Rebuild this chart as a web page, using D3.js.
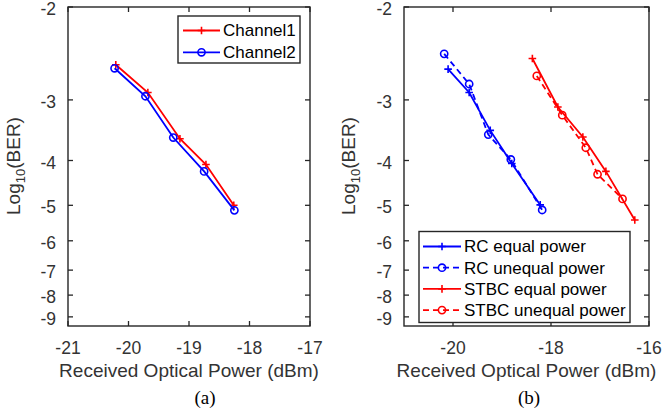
<!DOCTYPE html>
<html><head><meta charset="utf-8">
<script src="https://cdn.jsdelivr.net/npm/d3@7"></script>
<style>body{margin:0;background:#fff}svg{display:block}</style>
</head><body><svg id="c" width="663" height="413"></svg>
<script>
// ---- data (log10 BER vs received optical power, dBm) ----
const ch1X = [-20.21, -19.68, -19.15, -18.72, -18.26];
const ch1Y = [-2.56, -2.90, -3.60, -4.08, -5.00];
const ch2X = [-20.23, -19.72, -19.26, -18.75, -18.25];
const ch2Y = [-2.60, -2.95, -3.58, -4.22, -5.13];

const rcEqX = [-20.10, -19.67, -19.24, -18.80, -18.22];
const rcEqY = [-2.61, -2.90, -3.46, -4.06, -4.99];
const rcUnX = [-20.18, -19.67, -19.28, -18.82, -18.18];
const rcUnY = [-2.44, -2.79, -3.53, -3.98, -5.12];
const stEqX = [-18.38, -17.86, -17.35, -16.88, -16.29];
const stEqY = [-2.49, -3.10, -3.57, -4.22, -5.39];
const stUnX = [-18.29, -17.77, -17.29, -17.05, -16.54];
const stUnY = [-2.69, -3.22, -3.76, -4.28, -4.84];

const yTicks = [-2, -3, -4, -5, -6, -7, -8, -9];
const xTicksA = [-21, -20, -19, -18, -17];
const xTicksB = [-20, -18, -16];
const legendA = ["Channel1", "Channel2"];
const legendB = ["RC equal power", "RC unequal power", "STBC equal power", "STBC unequal power"];

// inverse normal CDF (Acklam)
function invNorm(p){
  const a=[-3.969683028665376e+01,2.209460984245205e+02,-2.759285104469687e+02,1.383577518672690e+02,-3.066479806614716e+01,2.506628277459239e+00];
  const b=[-5.447609879822406e+01,1.615858368580409e+02,-1.556989798598866e+02,6.680131188771972e+01,-1.328068155288572e+01];
  const c=[-7.784894002430293e-03,-3.223964580411365e-01,-2.400758277161838e+00,-2.549732539343734e+00,4.374664141464968e+00,2.938163982698783e+00];
  const d=[7.784695709041462e-03,3.224671290700398e-01,2.445134137142996e+00,3.754408661907416e+00];
  const pl=0.02425;
  if(p<pl){const q=Math.sqrt(-2*Math.log(p));return (((((c[0]*q+c[1])*q+c[2])*q+c[3])*q+c[4])*q+c[5])/((((d[0]*q+d[1])*q+d[2])*q+d[3])*q+1);}
  if(p>1-pl){const q=Math.sqrt(-2*Math.log(1-p));return -(((((c[0]*q+c[1])*q+c[2])*q+c[3])*q+c[4])*q+c[5])/((((d[0]*q+d[1])*q+d[2])*q+d[3])*q+1);}
  const q=p-0.5,r=q*q;return (((((a[0]*r+a[1])*r+a[2])*r+a[3])*r+a[4])*r+a[5])*q/(((((b[0]*r+b[1])*r+b[2])*r+b[3])*r+b[4])*r+1);
}
const Q = lb => -invNorm(Math.pow(10, lb));

const svg = d3.select("#c");
const AX = "#262626", TX = "#333";
const yTop = 7, yBot = 326;
const yMin = -9.46;
const y = d3.scaleLog().domain([Q(-2), Q(yMin)]).range([yTop, yBot]);

function panel(x0, x1, xDom, xTicks, labelX, tag, tagX){
  const x = d3.scaleLinear().domain(xDom).range([x0, x1]);
  const g = svg.append("g");
  g.append("rect").attr("x", x0).attr("y", yTop).attr("width", x1-x0).attr("height", yBot-yTop)
    .attr("fill","#fff").attr("stroke", AX).attr("stroke-width", 1.4);
  xTicks.forEach(t=>{
    const px = x(t);
    g.append("line").attr("x1",px).attr("x2",px).attr("y1",yBot).attr("y2",yBot-5).attr("stroke",AX).attr("stroke-width",1.3);
    g.append("line").attr("x1",px).attr("x2",px).attr("y1",yTop).attr("y2",yTop+5).attr("stroke",AX).attr("stroke-width",1.3);
    g.append("text").attr("x",px).attr("y",348).attr("dy","0.35em").attr("text-anchor","middle")
      .attr("font-family","Liberation Sans, Arial, sans-serif").attr("font-size",17.5).attr("fill",TX).text(t);
  });
  yTicks.forEach(t=>{
    const py = y(Q(t));
    g.append("line").attr("x1",x0).attr("x2",x0+5).attr("y1",py).attr("y2",py).attr("stroke",AX).attr("stroke-width",1.3);
    g.append("line").attr("x1",x1).attr("x2",x1-5).attr("y1",py).attr("y2",py).attr("stroke",AX).attr("stroke-width",1.3);
    g.append("text").attr("x",x0-12).attr("y",py+2).attr("dy","0.35em").attr("text-anchor","end")
      .attr("font-family","Liberation Sans, Arial, sans-serif").attr("font-size",17.5).attr("fill",TX).text(t);
  });
  g.append("text").attr("x",(x0+x1)/2).attr("y",377).attr("text-anchor","middle")
    .attr("font-family","Liberation Sans, Arial, sans-serif").attr("font-size",19).attr("fill",TX)
    .text("Received Optical Power (dBm)");
  const yl = g.append("text").attr("transform",`translate(${labelX},166) rotate(-90)`).attr("text-anchor","middle")
    .attr("font-family","Liberation Sans, Arial, sans-serif").attr("font-size",19).attr("fill",TX);
  yl.append("tspan").text("Log");
  yl.append("tspan").attr("font-size",13).attr("dy",5).text("10");
  yl.append("tspan").attr("dy",-5).text("(BER)");
  g.append("text").attr("x",tagX).attr("y",404).attr("text-anchor","middle")
    .attr("font-family","Liberation Serif, Times New Roman, serif").attr("font-size",19).attr("fill","#000").text(tag);
  return {g, x};
}

function series(g, x, xs, ys, color, marker, dashed){
  const pts = xs.map((v,i)=>[x(v), y(Q(ys[i]))]);
  g.append("path").attr("d", d3.line()(pts)).attr("fill","none").attr("stroke",color)
    .attr("stroke-width",1.8).attr("stroke-dasharray", dashed ? "6,4" : null);
  pts.forEach(p=>drawMarker(g, p[0], p[1], color, marker));
}
function drawMarker(g, px, py, color, marker){
  if(marker==="o"){
    g.append("circle").attr("cx",px).attr("cy",py).attr("r",3.6).attr("fill","none").attr("stroke",color).attr("stroke-width",1.6);
  } else {
    g.append("path").attr("d",`M${px-3.8},${py}H${px+3.8}M${px},${py-3.8}V${py+3.8}`).attr("stroke",color).attr("stroke-width",1.6);
  }
}
function legend(g, bx, by, bw, bh, items, rowY0, rowDy, lx0, lx1, tx){
  g.append("rect").attr("x",bx).attr("y",by).attr("width",bw).attr("height",bh).attr("fill","#fff").attr("stroke",AX).attr("stroke-width",1.4);
  items.forEach((it,i)=>{
    const yy = rowY0 + i*rowDy;
    g.append("line").attr("x1",lx0).attr("x2",lx1).attr("y1",yy).attr("y2",yy).attr("stroke",it.color)
      .attr("stroke-width",1.8).attr("stroke-dasharray", it.dashed ? "6,4" : null);
    drawMarker(g, (lx0+lx1)/2, yy, it.color, it.marker);
    g.append("text").attr("x",tx).attr("y",yy).attr("dy","0.35em")
      .attr("font-family","Liberation Sans, Arial, sans-serif").attr("font-size",17).attr("fill","#000").text(it.label);
  });
}

// panel (a)
const A = panel(68, 310, [-21, -17], xTicksA, 20, "(a)", 205);
series(A.g, A.x, ch1X, ch1Y, "#ff0000", "+", false);
series(A.g, A.x, ch2X, ch2Y, "#0000ff", "o", false);
legend(A.g, 178, 16, 122, 47, [
  {label:legendA[0], color:"#ff0000", marker:"+", dashed:false},
  {label:legendA[1], color:"#0000ff", marker:"o", dashed:false}
], 30.5, 21.8, 183, 220, 223);

// panel (b)
const B = panel(404, 649, [-21, -16], xTicksB, 355, "(b)", 529);
series(B.g, B.x, rcEqX, rcEqY, "#0000ff", "+", false);
series(B.g, B.x, rcUnX, rcUnY, "#0000ff", "o", true);
series(B.g, B.x, stEqX, stEqY, "#ff0000", "+", false);
series(B.g, B.x, stUnX, stUnY, "#ff0000", "o", true);
legend(B.g, 419, 231.5, 211, 91, [
  {label:legendB[0], color:"#0000ff", marker:"+", dashed:false},
  {label:legendB[1], color:"#0000ff", marker:"o", dashed:true},
  {label:legendB[2], color:"#ff0000", marker:"+", dashed:false},
  {label:legendB[3], color:"#ff0000", marker:"o", dashed:true}
], 246.5, 21.2, 423, 461, 464);
</script></body></html>
